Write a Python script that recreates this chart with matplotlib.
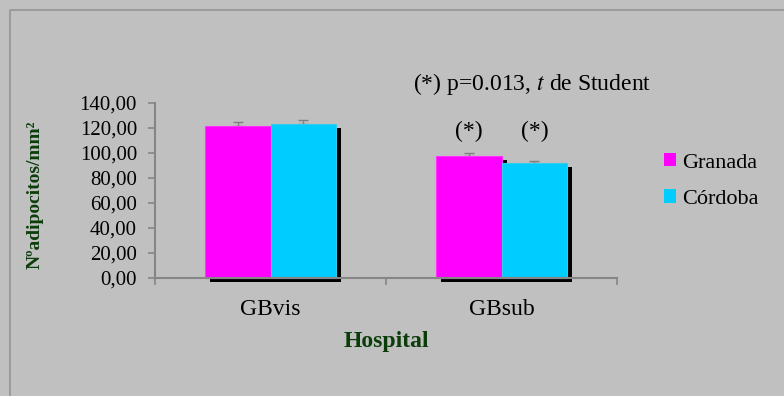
import matplotlib
matplotlib.use("Agg")
import matplotlib.pyplot as plt
import matplotlib.patheffects as pe
from matplotlib.lines import Line2D
from matplotlib.patches import Patch
import numpy as np

categories = ["GBvis", "GBsub"]
series = ["Granada", "Córdoba"]
granada = [122.0, 98.0]
cordoba = [123.0, 92.0]
granada_err = [3.0, 2.0]
cordoba_err = [3.5, 2.0]
yticks = [0, 20, 40, 60, 80, 100, 120, 140]

C_GRANADA = "#FF00FF"
C_CORDOBA = "#00CCFF"
C_BG = "#C0C0C0"
C_AXIS = "#868686"
C_TITLE = "#0B3D0B"

plt.rcParams["font.family"] = ["Liberation Serif", "DejaVu Serif"]

fig = plt.figure(figsize=(7.84, 3.96), dpi=100, facecolor=C_BG)
ax = fig.add_axes([155 / 784, 1 - 278 / 396, (617 - 155) / 784, (278 - 103) / 396])
ax.set_facecolor(C_BG)

# chart frame (only top and left edges fall inside the image)
fig.add_artist(Line2D([10 / 784, 10 / 784, 1.0], [0.0, 1 - 10 / 396, 1 - 10 / 396],
                      transform=fig.transFigure, color="#9C9C9C", lw=1.5))

x = np.arange(len(categories))
w = 0.2857
shadow = [pe.SimplePatchShadow(offset=(3.6, -3.0), shadow_rgbFace="black", alpha=1.0), pe.Normal()]

for vals, errs, off, col, edge in [(granada, granada_err, -w / 2, C_GRANADA, "#FF33FF"),
                                   (cordoba, cordoba_err, w / 2, C_CORDOBA, "#33CCEE")]:
    bars = ax.bar(x + off, vals, width=w, color=col, edgecolor=edge, linewidth=0.8,
                  zorder=2, clip_on=False)
    for b in bars:
        b.set_path_effects(shadow)
    ax.errorbar(x + off, vals, yerr=[np.zeros(len(vals)), errs], fmt="none",
                ecolor="#808080", elinewidth=1.0, capsize=3.6, capthick=1.0, zorder=1.5)

ax.set_xlim(-0.5, 1.5)
ax.set_ylim(0, 140)
ax.set_yticks(yticks)
ax.set_yticklabels([f"{v:.2f}".replace(".", ",") for v in yticks])
ax.set_xticks(x)
ax.set_xticklabels(categories)
ax.set_xticks([-0.5, 0.5, 1.5], minor=True)
ax.tick_params(axis="x", which="major", length=0, pad=15, labelsize=17)
ax.tick_params(axis="x", which="minor", length=5, width=1.2, color=C_AXIS, direction="out")
ax.tick_params(axis="y", length=5, width=1.2, color=C_AXIS, pad=8, labelsize=15)

for side in ["top", "right"]:
    ax.spines[side].set_visible(False)
for side in ["left", "bottom"]:
    ax.spines[side].set_color(C_AXIS)
    ax.spines[side].set_linewidth(1.5)
    ax.spines[side].set_zorder(3)

ax.set_xlabel("Hospital", fontsize=17, fontweight="bold", color=C_TITLE, labelpad=8)
fig.text(35 / 784, 1 - 195 / 396, "Nºadipocitos/mm²", rotation=90, fontsize=14,
         fontweight="bold", color=C_TITLE, ha="center", va="center")

# significance marks
fig.text(532 / 784, 1 - 84 / 396, "(*) p=0.013, $\\it{t}$ de Student", fontsize=17,
         ha="center", va="center", math_fontfamily="stix")
for xi in [1 - w / 2, 1 + w / 2]:
    ax.text(xi, 117, "(*)", fontsize=17, ha="center", va="center")

handles = [Patch(facecolor=C_GRANADA, edgecolor="none"), Patch(facecolor=C_CORDOBA, edgecolor="none")]
fig.legend(handles, series, loc="upper left", bbox_to_anchor=(664 / 784, 1 - 153 / 396),
           frameon=False, fontsize=16, handlelength=0.55, handleheight=0.55,
           handletextpad=0.25, labelspacing=0.75, borderpad=0, borderaxespad=0)

fig.savefig("out.png", dpi=100, facecolor=C_BG)
